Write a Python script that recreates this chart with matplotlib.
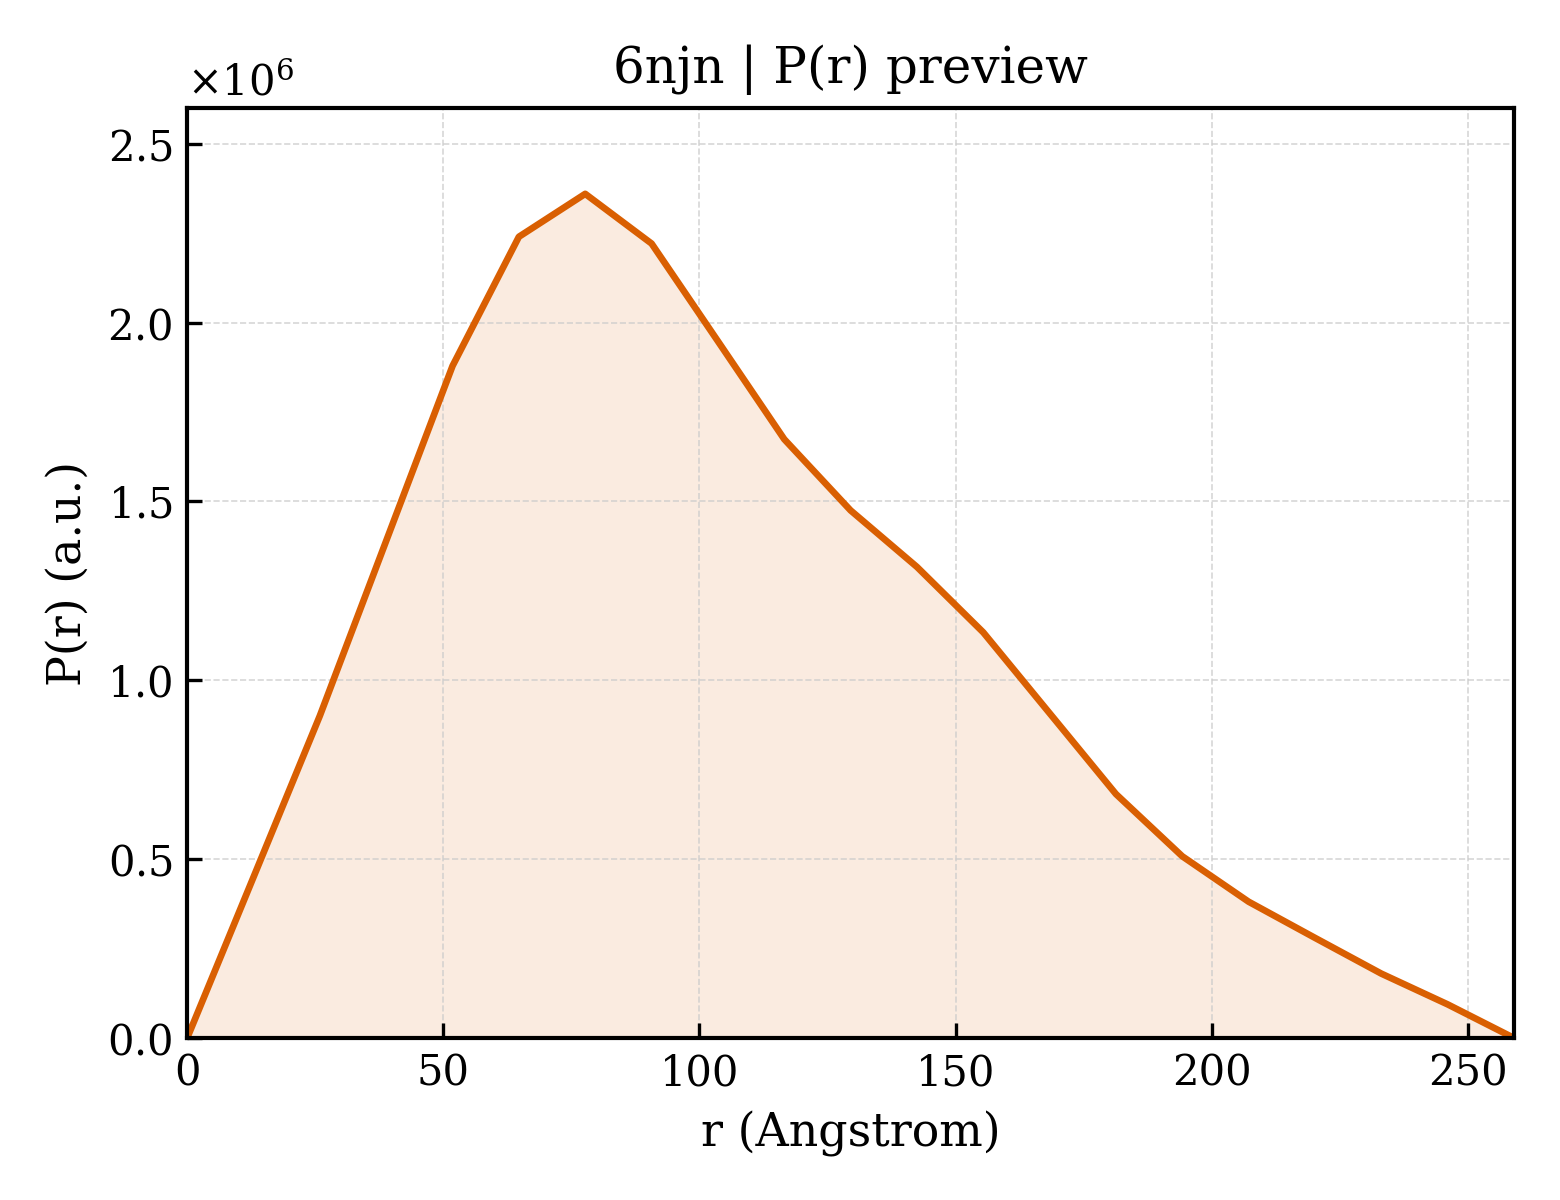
import matplotlib
matplotlib.use("Agg")
import matplotlib.pyplot as plt
import numpy as np

r = [0.0, 12.95, 25.9, 38.85, 51.8, 64.75, 77.7, 90.65, 103.6, 116.55, 129.5,
     142.45, 155.4, 168.35, 181.3, 194.25, 207.2, 220.15, 233.1, 246.05, 259.0]
pr = [0.0, 0.45e6, 0.901e6, 1.39e6, 1.879e6, 2.240e6, 2.360e6, 2.221e6, 1.948e6,
      1.674e6, 1.475e6, 1.317e6, 1.134e6, 0.908e6, 0.682e6, 0.508e6, 0.381e6,
      0.280e6, 0.180e6, 0.094e6, 0.0]

plt.rcParams['font.family'] = 'DejaVu Serif'
plt.rcParams['mathtext.fontset'] = 'dejavuserif'

fig, ax = plt.subplots(figsize=(5.2, 4), dpi=300)
fig.subplots_adjust(left=0.12, right=0.9705, top=0.91, bottom=0.135)

color = '#D95F02'
ax.fill_between(r, pr, 0, color=color, alpha=0.12, linewidth=0)
ax.plot(r, pr, color=color, linewidth=1.6)

ax.set_xlim(0, 259)
ax.set_ylim(0, 2.6e6)
ax.set_xlabel('r (Angstrom)', fontsize=11)
ax.set_ylabel('P(r) (a.u.)', fontsize=11)
ax.set_title('6njn | P(r) preview', fontsize=12)
ax.grid(True, linestyle='--', linewidth=0.4, color='#cccccc', alpha=0.8)
ax.tick_params(direction='in', labelsize=10)
ax.ticklabel_format(axis='y', style='sci', scilimits=(0, 0), useMathText=True)
ax.yaxis.get_offset_text().set_fontsize(10)
for s in ax.spines.values():
    s.set_linewidth(1.0)

fig.savefig('out.png', dpi=300)
